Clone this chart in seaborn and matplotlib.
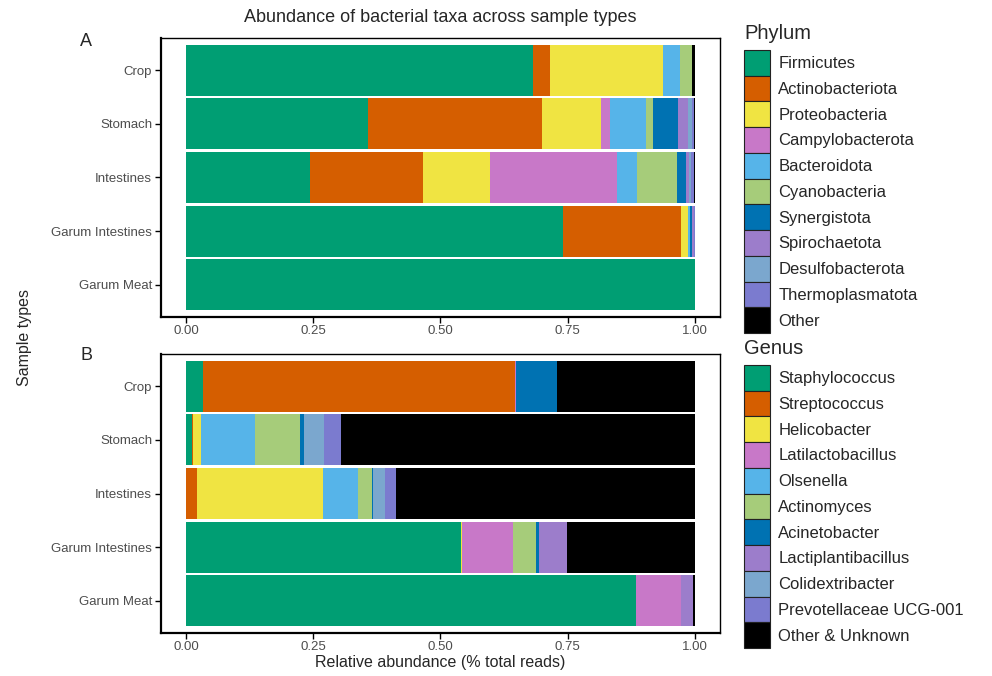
import numpy as np
import pandas as pd
import matplotlib
matplotlib.use("Agg")
import matplotlib.pyplot as plt
import seaborn as sns
from matplotlib.patches import Patch

samples = ["Crop", "Stomach", "Intestines", "Garum Intestines", "Garum Meat"]

phyla = ["Firmicutes", "Actinobacteriota", "Proteobacteria", "Campylobacterota",
         "Bacteroidota", "Cyanobacteria", "Synergistota", "Spirochaetota",
         "Desulfobacterota", "Thermoplasmatota", "Other"]
# one list per sample, same order as phyla
phylum_crop = [0.682, 0.033, 0.222, 0.000, 0.033, 0.024, 0.000, 0.000, 0.000, 0.000, 0.006]
phylum_stomach = [0.358, 0.341, 0.116, 0.018, 0.071, 0.013, 0.050, 0.019, 0.008, 0.004, 0.002]
phylum_intestines = [0.244, 0.222, 0.131, 0.250, 0.039, 0.079, 0.017, 0.006, 0.005, 0.004, 0.003]
phylum_garum_int = [0.740, 0.232, 0.014, 0.000, 0.004, 0.000, 0.004, 0.004, 0.000, 0.001, 0.001]
phylum_garum_meat = [1.000, 0.000, 0.000, 0.000, 0.000, 0.000, 0.000, 0.000, 0.000, 0.000, 0.000]

genera = ["Staphylococcus", "Streptococcus", "Helicobacter", "Latilactobacillus",
          "Olsenella", "Actinomyces", "Acinetobacter", "Lactiplantibacillus",
          "Colidextribacter", "Prevotellaceae UCG-001", "Other & Unknown"]
genus_crop = [0.034, 0.612, 0.000, 0.003, 0.000, 0.000, 0.079, 0.000, 0.000, 0.000, 0.272]
genus_stomach = [0.011, 0.003, 0.016, 0.000, 0.106, 0.088, 0.008, 0.000, 0.040, 0.033, 0.695]
genus_intestines = [0.000, 0.021, 0.249, 0.000, 0.068, 0.027, 0.002, 0.000, 0.024, 0.021, 0.588]
genus_garum_int = [0.540, 0.000, 0.003, 0.100, 0.000, 0.044, 0.007, 0.054, 0.000, 0.000, 0.252]
genus_garum_meat = [0.884, 0.000, 0.000, 0.089, 0.000, 0.000, 0.000, 0.023, 0.000, 0.000, 0.004]

palette = ["#009E73", "#D55E00", "#F0E442", "#C878C8", "#56B4E9", "#A6CC7A",
           "#0072B2", "#9C7DCB", "#7BA7CE", "#7B7BCF", "#000000"]

sns.set_theme(style="white")
plt.rcParams["font.family"] = ["Liberation Sans", "DejaVu Sans"]


def stacked_panel(ax, rows, taxa):
    df = pd.DataFrame(rows, index=samples, columns=taxa)
    cum = df.cumsum(axis=1)
    # draw from the right-most cumulative layer back to the first one
    for i in range(len(taxa) - 1, -1, -1):
        sns.barplot(x=cum.iloc[:, i].values, y=samples, orient="h", color=palette[i],
                    saturation=1, width=0.95, errorbar=None, linewidth=0, ax=ax)
    ax.set_xlim(-0.05, 1.05)
    ax.set_ylim(4.6, -0.6)
    ax.set_xticks([0, 0.25, 0.5, 0.75, 1.0])
    ax.set_xticklabels(["0.00", "0.25", "0.50", "0.75", "1.00"])
    ax.set_xlabel("")
    ax.set_ylabel("")
    ax.tick_params(axis="both", length=4, width=1, color="black", labelsize=9.5,
                   labelcolor="#4D4D4D", pad=2, bottom=True, left=True)
    for side, sp in ax.spines.items():
        sp.set_visible(True)
        sp.set_color("black")
        sp.set_linewidth(1.6 if side in ("left", "bottom") else 1.0)


fig = plt.figure(figsize=(9.92, 6.76), dpi=100)
ax_a = fig.add_axes([0.1618, 0.5311, 0.5645, 0.4127])
ax_b = fig.add_axes([0.1618, 0.0636, 0.5645, 0.4127])

stacked_panel(ax_a, [phylum_crop, phylum_stomach, phylum_intestines,
                     phylum_garum_int, phylum_garum_meat], phyla)
stacked_panel(ax_b, [genus_crop, genus_stomach, genus_intestines,
                     genus_garum_int, genus_garum_meat], genera)

fig.text(0.444, 1 - 18 / 676, "Abundance of bacterial taxa across sample types",
         ha="center", va="center", fontsize=13)
fig.text(86 / 992, 1 - 41 / 676, "A", ha="center", va="center", fontsize=13)
fig.text(86 / 992, 1 - 356 / 676, "B", ha="center", va="center", fontsize=13)
fig.text(25 / 992, 1 - 338 / 676, "Sample types", rotation=90, ha="center",
         va="center", fontsize=11.5)
fig.text(0.444, 1 - 663 / 676, "Relative abundance (% total reads)",
         ha="center", va="center", fontsize=11.5)


def add_legend(taxa, title, top):
    handles = [Patch(facecolor=palette[i], edgecolor="#222222", linewidth=0.8)
               for i in range(len(taxa))]
    leg = fig.legend(handles, taxa, title=title, loc="upper left",
                     bbox_to_anchor=(744 / 992, 1 - top / 676), frameon=False,
                     fontsize=12, title_fontsize=14.5, handlelength=1.56,
                     handleheight=2.0, handletextpad=0.5, labelspacing=0.0,
                     borderpad=0, borderaxespad=0, alignment="left")
    # a little room between the title and the keys
    leg._legend_box.sep = 5
    return leg


add_legend(phyla, "Phylum", 24)
add_legend(genera, "Genus", 339)

fig.savefig("out.png", dpi=100)
